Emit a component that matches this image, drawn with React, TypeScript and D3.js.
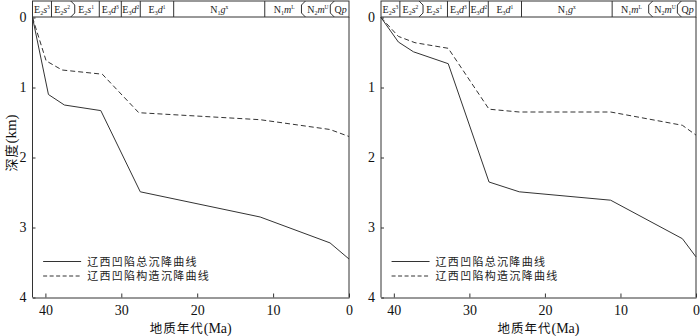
import * as d3 from "d3";
import { useEffect, useRef } from "react";

// ---------- data ----------
const ageTicks = [40, 30, 20, 10, 0];
const depthTicks = [0, 1, 2, 3, 4];

const stageBounds = [41.7, 39.2, 36.4, 32.9, 30.0, 27.5, 23.1, 11.1, 6.0, 2.2, 0];
const stageNames = [
  { main: "E", sub: "2", it: "s", sup: "3" },
  { main: "E", sub: "2", it: "s", sup: "2" },
  { main: "E", sub: "2", it: "s", sup: "1" },
  { main: "E", sub: "3", it: "d", sup: "3" },
  { main: "E", sub: "3", it: "d", sup: "2" },
  { main: "E", sub: "3", it: "d", sup: "1" },
  { main: "N", sub: "1", it: "g", sup: "x" },
  { main: "N", sub: "1", it: "m", sup: "L" },
  { main: "N", sub: "2", it: "m", sup: "U" },
  { main: "Q", sub: "", it: "p", sup: "" },
];
// divider drawn at each inner bound: plain line, ")" or "("
const stageEdges = ["line", "close", "line", "line", "line", "line", "line", "open", "open"];

const legendNames = ["辽西凹陷总沉降曲线", "辽西凹陷构造沉降曲线"];

// left panel
const leftAge = [41.7, 39.6, 37.5, 32.7, 27.5, 11.7, 2.5, 0];
const leftTotal = [0, 1.1, 1.25, 1.33, 2.49, 2.85, 3.22, 3.45];
const leftTectAge = [41.7, 39.9, 37.8, 32.5, 27.7, 11.7, 2.5, 0];
const leftTect = [0, 0.62, 0.75, 0.81, 1.36, 1.46, 1.6, 1.7];

// right panel
const rightAge = [41.7, 39.4, 37.4, 32.8, 27.4, 23.4, 11.3, 1.8, 0];
const rightTotal = [0, 0.35, 0.49, 0.66, 2.35, 2.49, 2.61, 3.16, 3.42];
const rightTectAge = [41.7, 39.4, 37.2, 32.8, 27.4, 23.4, 11.3, 1.8, 0];
const rightTect = [0, 0.27, 0.36, 0.44, 1.31, 1.35, 1.35, 1.54, 1.68];

const INK = "#333";
const SERIF = "'Liberation Serif', 'DejaVu Serif', serif";
const CJK = "'Noto Sans CJK SC', sans-serif";

type PanelProps = {
  x0: number;
  x1: number;
  ages: number[];
  total: number[];
  tectAges: number[];
  tect: number[];
  showYLabel: boolean;
};

function Panel(props: PanelProps) {
  const ref = useRef<SVGGElement>(null);

  useEffect(() => {
    const { x0, x1 } = props;
    const headTop = 1;
    const headBot = 17;
    const yTop = 17.5;
    const yBot = 297.5;

    const g = d3.select(ref.current);
    g.selectAll("*").remove();

    const X = d3.scaleLinear().domain([41.7, 0]).range([x0, x1]);
    const Y = d3.scaleLinear().domain([0, 4]).range([yTop, yBot]);

    //    ---------------   HEADER  ------------------------
    g.append("rect")
      .attr("x", x0).attr("y", headTop)
      .attr("width", x1 - x0).attr("height", headBot - headTop)
      .attr("fill", "none").attr("stroke", INK).attr("stroke-width", 1);

    stageEdges.forEach((kind, i) => {
      const xx = X(stageBounds[i + 1]);
      let d = `M${xx},${headTop}L${xx},${headBot}`;
      if (kind === "close")
        d = `M${xx - 2},${headTop}L${xx + 2},${headTop + 4}L${xx + 2},${headBot - 4}L${xx - 2},${headBot}`;
      if (kind === "open")
        d = `M${xx + 2},${headTop}L${xx - 2},${headTop + 4}L${xx - 2},${headBot - 4}L${xx + 2},${headBot}`;
      g.append("path").attr("d", d).attr("fill", "none").attr("stroke", INK).attr("stroke-width", 1);
    });

    stageNames.forEach((s, i) => {
      const cx = (X(stageBounds[i]) + X(stageBounds[i + 1])) / 2;
      const t = g.append("text")
        .attr("x", cx).attr("y", 12.5)
        .attr("text-anchor", "middle")
        .attr("font-family", SERIF).attr("font-size", 10).attr("fill", "#222");
      t.append("tspan").text(s.main);
      if (s.sub) t.append("tspan").attr("font-size", 6).attr("dy", 2).text(s.sub);
      t.append("tspan").attr("font-style", "italic").attr("font-size", 10)
        .attr("dy", s.sub ? -2 : 0).text(s.it);
      if (s.sup) t.append("tspan").attr("font-size", 5.5).attr("dy", -4).text(s.sup);
    });

    //    ---------------   AXES  ------------------------
    g.append("g")
      .attr("transform", `translate(${x0},0)`)
      .call(d3.axisLeft(Y).tickValues(depthTicks).tickSize(-3).tickSizeOuter(0).tickPadding(6).tickFormat(d3.format("d")))
      .call((a) => a.select(".domain").attr("d", `M0,${headBot}V${yBot}`))
      .call((a) => a.selectAll("line").attr("stroke", INK))
      .call((a) => a.select(".domain").attr("stroke", INK))
      .selectAll("text").attr("font-family", SERIF).attr("font-size", 14).attr("fill", "#111");

    g.append("g")
      .attr("transform", `translate(0,${yBot})`)
      .call(d3.axisBottom(X).tickValues(ageTicks).tickSize(-4).tickSizeOuter(0).tickPadding(8))
      .call((a) => a.selectAll("line").attr("stroke", INK))
      .call((a) => a.select(".domain").attr("stroke", INK))
      .selectAll("text").attr("font-family", SERIF).attr("font-size", 14).attr("fill", "#111");

    g.append("line")
      .attr("x1", x1).attr("x2", x1).attr("y1", headBot).attr("y2", yBot)
      .attr("stroke", INK).attr("stroke-width", 1);

    //    ---------------   CURVES  ------------------------
    const line = d3.line<[number, number]>().x((d) => X(d[0])).y((d) => Y(d[1]));

    g.append("path")
      .datum(props.ages.map((a, i) => [a, props.total[i]] as [number, number]))
      .attr("d", line).attr("fill", "none").attr("stroke", INK).attr("stroke-width", 1);

    g.append("path")
      .datum(props.tectAges.map((a, i) => [a, props.tect[i]] as [number, number]))
      .attr("d", line).attr("fill", "none").attr("stroke", INK).attr("stroke-width", 1)
      .attr("stroke-dasharray", "5,3");

    //    ---------------   LEGEND  ------------------------
    const lx = X(40.3);
    legendNames.forEach((name, i) => {
      const ly = 261.5 + i * 14.5;
      g.append("line")
        .attr("x1", lx).attr("x2", lx + 38).attr("y1", ly).attr("y2", ly)
        .attr("stroke", INK).attr("stroke-width", 1)
        .attr("stroke-dasharray", i === 0 ? null : "4,2.5");
      g.append("text")
        .attr("x", lx + 44).attr("y", ly + 4)
        .attr("font-family", CJK).attr("font-size", 11).attr("letter-spacing", 1.3)
        .attr("fill", "#222").text(name);
    });

    //    ---------------   LABELS  ------------------------
    const xl = g.append("text")
      .attr("x", (x0 + x1) / 2).attr("y", 332.5)
      .attr("text-anchor", "middle")
      .attr("font-family", CJK).attr("font-size", 12.5).attr("letter-spacing", 1).attr("fill", "#111");
    xl.append("tspan").text("地质年代");
    xl.append("tspan").attr("font-family", SERIF).attr("font-size", 14).attr("letter-spacing", 0).text("(Ma)");

    if (props.showYLabel) {
      const yl = g.append("text")
        .attr("transform", `translate(16,143) rotate(-90)`)
        .attr("text-anchor", "middle")
        .attr("font-family", CJK).attr("font-size", 13).attr("letter-spacing", 1).attr("fill", "#111");
      yl.append("tspan").text("深度");
      yl.append("tspan").attr("font-family", SERIF).attr("font-size", 15).attr("letter-spacing", 0).text("(km)");
    }
  }, []);

  return <g ref={ref}></g>;
}

export default function App() {
  return (
    <div style={{ position: "absolute", left: 0, top: 0, background: "#fff" }}>
      <svg width={700} height={336} style={{ display: "block" }}>
        <rect width={700} height={336} fill="#fff" />
        <Panel x0={32.5} x1={349} ages={leftAge} total={leftTotal}
          tectAges={leftTectAge} tect={leftTect} showYLabel={true} />
        <Panel x0={381} x1={696} ages={rightAge} total={rightTotal}
          tectAges={rightTectAge} tect={rightTect} showYLabel={false} />
      </svg>
    </div>
  );
}
